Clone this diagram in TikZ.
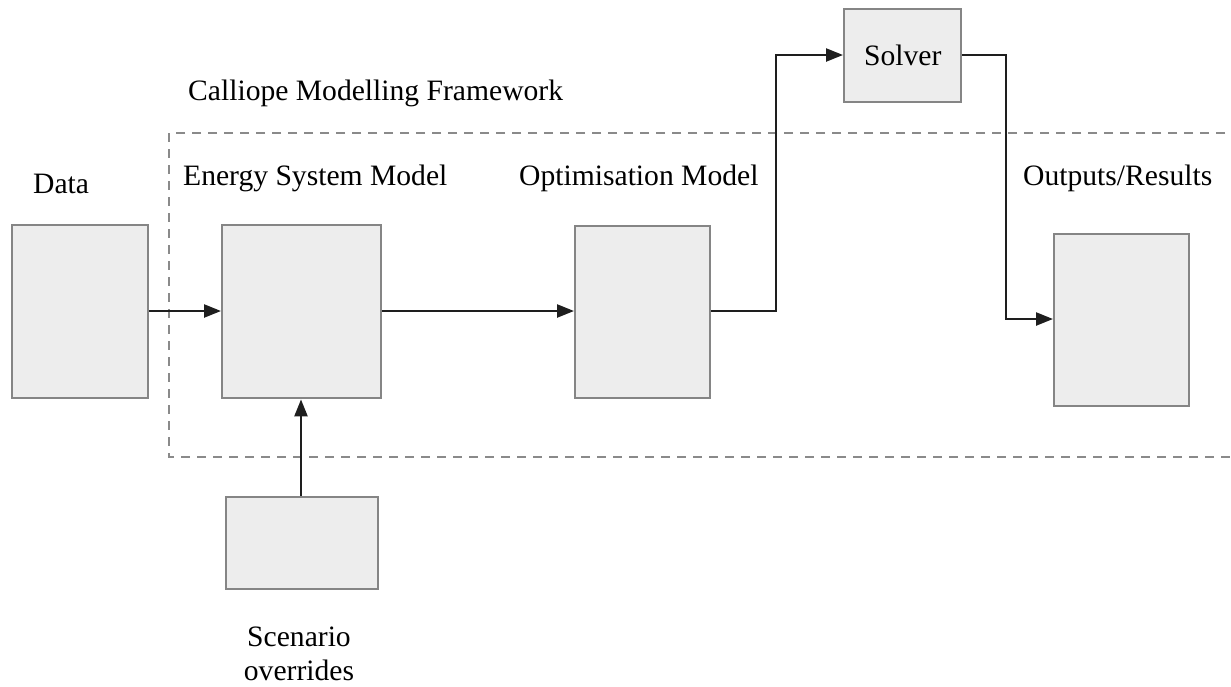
\documentclass[tikz,border=0pt]{standalone}
\usepackage{fontspec}
\setmainfont{Liberation Serif}
\usetikzlibrary{arrows.meta}
\definecolor{boxfill}{HTML}{EDEDED}
\definecolor{boxline}{HTML}{858585}
\definecolor{wire}{HTML}{1E1E1E}
\definecolor{frameline}{HTML}{8A8A8A}
\tikzset{
  block/.style={draw=boxline, fill=boxfill, line width=2.4pt, inner sep=0pt, anchor=north west},
  label/.style={inner sep=0pt, anchor=base west, font=\fontsize{29.6}{35}\selectfont},
  flow/.style={draw=wire, line width=2.4pt, -{Triangle[length=17pt,width=13pt]}},
  frame/.style={draw=frameline, line width=2pt, dash pattern=on 9pt off 7pt},
}
\begin{document}
\begin{tikzpicture}[x=1pt,y=-1pt]
  \useasboundingbox (0,0) rectangle (1231,686);
  \clip (0,0) rectangle (1231,686);

  % framework boundary (runs off the right edge)
  \draw[frame] (169,133) rectangle (1245,457);

  % blocks
  \node[block, minimum width=136pt, minimum height=173pt] (data) at (11,224) {};
  \node[block, minimum width=159pt, minimum height=173pt] (esm) at (221,224) {};
  \node[block, minimum width=135pt, minimum height=172pt] (opt) at (574,225) {};
  \node[block, minimum width=117pt, minimum height=93pt,
        font=\fontsize{29.6}{35}\selectfont] (solver) at (843,8) {Solver};
  \node[block, minimum width=135pt, minimum height=172pt] (out) at (1053,233) {};
  \node[block, minimum width=152pt, minimum height=92pt] (scen) at (225,496) {};

  % labels
  \node[label] (lcal) at (188,100) {Calliope Modelling Framework};
  \node[label] (ldata) at (33,193) {Data};
  \node[label] (lesm) at (183,185) {Energy System Model};
  \node[label] (lopt) at (519,185) {Optimisation Model};
  \node[label] (lout) at (1023,185) {Outputs/Results};
  \node[label, anchor=base, align=center] (lscen) at (299,680) {Scenario\\[-1pt]overrides};

  % connectors
  \draw[flow] (data.east |- 0,311) -- (esm.west |- 0,311);
  \draw[flow] (esm.east |- 0,311) -- (opt.west |- 0,311);
  \draw[flow] (opt.east |- 0,311) -| (776,55) -- (solver.west |- 0,55);
  \draw[flow] (solver.east |- 0,55) -| (1006,319) -- (out.west |- 0,319);
  \draw[flow] (scen.north -| 301,0) -- (esm.south -| 301,0);
\end{tikzpicture}
\end{document}
